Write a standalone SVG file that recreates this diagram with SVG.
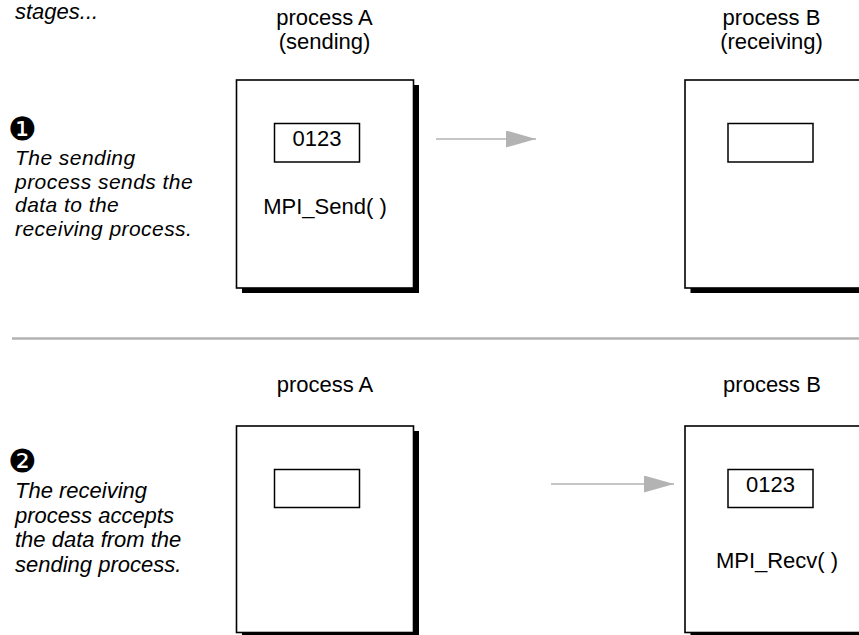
<svg xmlns="http://www.w3.org/2000/svg" width="859" height="635" viewBox="0 0 859 635">
<defs>
<style>
text{font-family:"Liberation Sans",Arial,sans-serif;font-size:22px;fill:#000}
.it{font-style:italic}
.tight{font-size:21px;letter-spacing:0.45px}
.mid{text-anchor:middle}
.num{font-family:"DejaVu Sans",sans-serif;font-size:32px}
.shadow{fill:#000}
.box{fill:#fff;stroke:#000;stroke-width:1.6}
.data{fill:#fff;stroke:#000;stroke-width:1.5}
.conn{stroke:#b3b3b3;stroke-width:1.6;fill:none}
.sep{stroke:#b3b3b3;stroke-width:2.4}
</style>
<marker id="ah" markerUnits="userSpaceOnUse" markerWidth="30" markerHeight="18" refX="30" refY="8.5" orient="auto">
<path d="M0,0 L30,8.5 L0,17 Z" fill="#b3b3b3"/>
</marker>
</defs>
<rect width="859" height="635" fill="#fff"/>

<text class="it" x="15" y="19">stages...</text>

<g id="step1-label">
<text class="num" x="8" y="140">❶</text>
<text class="it tight" x="15" y="165">The sending</text>
<text class="it tight" x="15" y="188.5">process sends the</text>
<text class="it tight" x="15" y="212">data to the</text>
<text class="it tight" x="15" y="235.5">receiving process.</text>
</g>

<g id="processA-top">
<text class="mid" x="324.5" y="25">process A</text>
<text class="mid" x="324.5" y="49">(sending)</text>
<rect class="shadow" x="242" y="85" width="177" height="208"/>
<rect class="box" x="236.5" y="80" width="177" height="208"/>
<rect class="data" x="274.5" y="123.5" width="85" height="38.5"/>
<text class="mid" x="317" y="146">0123</text>
<text class="mid" x="325" y="214">MPI_Send( )</text>
</g>

<g id="processB-top">
<text class="mid" x="771.5" y="25">process B</text>
<text class="mid" x="771.5" y="49">(receiving)</text>
<rect class="shadow" x="690.5" y="85" width="200" height="208"/>
<rect class="box" x="685" y="80" width="200" height="208"/>
<rect class="data" x="728" y="123.5" width="85" height="38.5"/>
</g>

<line class="sep" x1="12" y1="338.5" x2="859" y2="338.5"/>

<g id="step2-label">
<text class="num" x="8" y="472">❷</text>
<text class="it" x="15" y="498">The receiving</text>
<text class="it" x="15" y="522.5">process accepts</text>
<text class="it" x="15" y="547">the data from the</text>
<text class="it" x="15" y="571.5">sending process.</text>
</g>

<g id="processA-bottom">
<text class="mid" x="325" y="392">process A</text>
<rect class="shadow" x="242" y="431" width="177" height="210"/>
<rect class="box" x="236.5" y="426" width="177" height="206.5"/>
<rect class="data" x="274.5" y="469.5" width="85" height="38"/>
</g>

<g id="processB-bottom">
<text class="mid" x="772" y="392">process B</text>
<rect class="shadow" x="690.5" y="431" width="200" height="210"/>
<rect class="box" x="685" y="426" width="200" height="206.5"/>
<rect class="data" x="728" y="469.5" width="85" height="38"/>
<text class="mid" x="770.5" y="492">0123</text>
<text class="mid" x="777" y="568">MPI_Recv( )</text>
</g>

<g id="connectors">
<line class="conn" x1="436" y1="139" x2="536" y2="139" marker-end="url(#ah)"/>
<line class="conn" x1="551" y1="484" x2="674" y2="484" marker-end="url(#ah)"/>
</g>
</svg>
